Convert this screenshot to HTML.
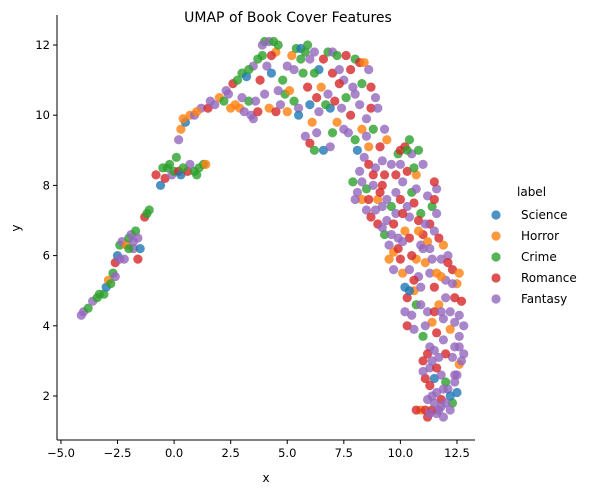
<!DOCTYPE html>
<html><head><meta charset="utf-8"><style>
body{margin:0;background:#fff;font-family:"Liberation Sans","DejaVu Sans",sans-serif;}
svg text{font-family:"DejaVu Sans","Liberation Sans",sans-serif;fill:#000;}
</style></head><body>
<svg id="chart" width="598" height="495" viewBox="0 0 598 495">
<text x="288" y="22" text-anchor="middle" font-size="14">UMAP of Book Cover Features</text>
<g id="points"></g>
<g id="axes"></g>
<text x="266" y="482" text-anchor="middle" font-size="12">x</text>
<text x="20" y="228" text-anchor="middle" font-size="12" transform="rotate(-90 20 228)">y</text>
<g id="legend">
<text x="517" y="196" font-size="12">label</text>
</g>
</svg>
<script>
const categories=["Science","Horror","Crime","Romance","Fantasy"];
const colors=["#1f77b4","#ff7f0e","#2ca02c","#d62728","#9467bd"];
const xTicks=[-5,-2.5,0,2.5,5,7.5,10,12.5];
const xTickLabels=["−5.0","−2.5","0.0","2.5","5.0","7.5","10.0","12.5"];
const yTicks=[2,4,6,8,10,12];
const yTickLabels=["2","4","6","8","10","12"];
const pts=[
-4.1,4.3,4,-4.0,4.4,4,-3.8,4.5,2,-3.6,4.7,4,-3.3,4.9,2,-3.1,4.9,2,-3.0,5.1,0,-2.9,5.3,1,-2.7,5.5,2,-2.6,5.8,3,-2.5,6.0,0,-2.4,6.3,2,-2.3,6.4,4,-2.1,6.3,1,-2.0,6.5,2,-1.9,6.6,4,-1.7,6.7,2,-1.6,6.5,4,-1.8,6.2,4,-1.6,5.9,3,-1.5,6.2,0,-1.3,7.1,3,-1.2,7.2,2,-1.1,7.3,2,-2.6,5.4,4,-2.2,5.9,4,
-0.6,8.0,0,-0.4,8.2,3,-0.5,8.5,2,-0.3,8.5,2,-0.1,8.3,4,0.0,8.4,2,0.2,8.4,3,0.3,8.3,0,0.1,8.8,2,0.2,9.3,4,0.3,9.6,1,0.5,9.8,0,0.7,10.0,1,0.9,10.0,4,0.6,8.4,3,0.9,8.4,2,1.1,8.5,2,1.3,8.6,2,1.4,8.6,1,0.7,8.6,4,1.2,10.2,4,1.5,10.2,3,1.8,10.3,4,2.0,10.5,1,2.2,10.4,2,2.4,10.6,4,2.6,10.9,3,2.8,11.0,2,3.0,11.2,2,3.2,11.1,0,2.7,10.3,1,2.9,10.2,1,3.1,10.1,4,3.4,10.0,4,3.5,9.9,4,3.7,10.1,3,3.3,10.4,2,3.5,11.4,4,3.7,11.6,2,3.9,11.7,2,4.0,12.1,2,4.2,12.1,4,4.4,12.1,2,4.5,11.8,1,4.1,11.4,4,4.3,11.2,0,3.8,11.0,3,4.0,10.6,4,4.2,10.2,1,4.5,10.1,3,4.7,10.3,4,4.9,10.6,2,5.1,10.7,1,4.8,11.0,2,5.0,11.4,4,5.2,11.7,1,5.4,11.9,2,5.6,11.9,0,5.8,11.8,2,6.0,11.6,4,5.7,11.2,2,5.9,10.8,3,5.5,10.2,4,5.3,10.4,2,5.5,10.0,0,5.8,9.4,4,6.0,9.2,3,6.2,9.0,2,6.1,9.8,1,6.4,10.1,4,6.3,10.5,3,6.5,10.8,1,6.4,11.3,0,6.6,11.6,3,6.8,11.8,2,7.0,11.8,4,7.2,11.7,2,7.0,11.2,3,6.8,10.6,4,6.9,10.2,0,7.1,10.4,3,6.6,9.0,0,7.0,9.5,2,7.2,9.8,1,7.4,10.2,4,7.6,10.5,2,7.5,11.0,4,7.8,11.3,3,8.0,11.6,2,8.2,11.5,3,8.4,11.5,1,8.6,11.3,4,8.3,10.9,2,8.0,10.6,4,7.8,10.0,3,7.7,9.5,4,8.0,9.3,2,8.3,9.6,1,8.5,9.9,4,8.7,10.2,3,9.0,10.2,4,8.8,9.6,2,9.1,9.1,3,8.5,9.4,4,8.1,9.0,0,8.4,8.8,4,8.6,8.6,3,
7.9,8.1,2,8.1,7.8,4,8.3,7.6,1,8.5,7.3,4,8.7,7.1,3,8.5,7.9,2,8.8,8.0,4,9.0,7.6,1,9.2,7.4,4,9.0,6.9,3,9.3,6.6,2,9.5,6.3,4,9.7,6.1,1,9.4,7.0,4,9.6,7.4,2,9.8,7.8,4,9.3,8.3,3,9.6,8.6,4,9.9,8.9,2,10.2,9.1,3,10.4,9.3,2,10.5,8.9,4,10.3,8.4,3,10.1,8.1,4,10.5,7.8,2,10.7,8.3,1,10.6,7.5,3,10.4,7.1,4,10.2,6.7,1,9.9,6.5,4,10.0,5.9,3,10.1,5.5,1,10.2,5.1,0,10.3,4.8,3,10.2,4.4,4,10.3,4.0,3,10.5,4.3,4,10.7,4.6,2,10.6,5.0,1,10.8,5.4,4,10.7,5.9,1,10.9,6.3,4,11.0,6.6,3,11.2,6.4,1,11.3,6.9,3,11.5,6.7,4,11.4,7.4,2,11.6,7.9,4,11.5,8.1,3,11.2,7.7,4,10.9,7.2,2,11.0,8.6,4,10.8,9.0,2,11.1,5.8,1,11.3,5.5,4,11.6,5.5,1,11.8,5.9,4,11.5,5.1,3,11.7,4.6,1,11.9,4.2,4,12.2,4.4,4,12.4,4.8,3,12.6,4.3,4,12.8,4.0,4,12.7,4.7,3,12.5,5.2,1,12.0,5.3,4,12.3,5.6,3,11.9,6.3,1,12.1,6.0,4,11.4,4.1,1,11.1,4.0,4,11.0,3.7,2,11.3,3.4,4,11.6,3.8,3,11.9,3.6,4,12.2,3.9,1,12.4,3.4,4,12.8,3.2,4,12.6,2.9,1,12.4,2.6,4,12.5,2.1,0,12.3,1.8,2,12.1,2.2,4,11.8,1.9,3,11.6,1.5,4,11.4,1.6,3,11.2,1.9,4,11.1,2.5,3,11.3,2.8,4,11.5,2.5,0,11.8,2.6,4,12.0,2.4,2,11.7,1.6,4,11.9,1.4,4,11.2,1.4,3,10.9,1.6,1,10.7,1.6,3,11.0,3.0,3,11.2,3.2,3,12.6,3.7,4,11.6,2.1,4,12.2,1.6,4,
8.2,8.4,4,8.9,8.5,4,9.2,8.0,3,9.8,7.2,4,10.0,7.6,3,10.4,6.5,3,9.7,5.6,4,9.5,5.9,1,10.8,6.7,1,10.0,9.0,3,9.4,9.3,1,
-3.4,4.8,2,-2.8,5.2,2,-2.4,5.9,4,-2.0,6.2,2,-1.8,6.4,4,-0.8,8.3,3,-0.2,8.6,2,0.4,8.5,2,1.0,8.3,2,0.4,9.9,1,1.0,10.1,1,1.6,10.4,4,2.3,10.7,4,2.5,10.2,1,3.0,10.5,4,3.3,11.3,2,3.6,10.4,4,3.9,12.0,4,4.3,11.7,3,4.6,12.0,2,4.6,10.7,4,5.0,10.1,1,5.3,11.3,4,5.6,11.6,2,5.9,12.0,2,6.2,11.2,2,6.2,11.8,4,6.0,10.3,0,6.7,10.3,2,6.3,9.5,4,6.9,9.1,4,7.3,11.3,4,7.3,10.9,3,7.6,11.7,3,7.9,10.8,4,8.2,10.3,4,7.5,9.6,4,8.7,10.8,3,8.9,10.5,4,9.3,9.6,4,8.6,9.1,1,9.2,8.7,4,8.8,8.3,3,8.3,8.1,4,8.0,7.6,4,8.6,7.6,3,8.9,7.3,4,9.1,7.8,3,9.4,7.6,4,9.7,6.9,3,9.2,6.8,4,9.6,6.6,4,9.9,6.2,3,10.1,6.4,4,10.3,7.4,4,10.1,7.2,3,9.8,8.3,3,10.0,8.6,4,10.6,8.5,2,10.3,9.0,2,10.7,7.9,4,10.8,7.0,3,11.1,6.9,4,11.0,6.2,4,11.3,6.2,4,10.5,6.0,3,10.4,5.6,4,10.6,5.3,3,10.9,5.1,4,10.4,5.0,0,10.9,4.6,4,10.6,3.9,4,11.2,4.4,4,11.5,4.4,3,11.8,4.4,4,12.0,4.8,4,12.3,5.2,4,12.6,5.5,1,12.1,5.8,3,11.8,5.4,1,11.4,5.9,4,11.7,6.5,3,11.6,7.2,4,11.5,7.6,3,12.4,4.1,4,12.6,3.4,4,12.3,3.1,4,12.0,3.2,3,11.7,3.1,4,11.5,3.3,4,11.0,2.7,4,11.3,2.3,3,11.6,2.8,3,11.9,2.2,4,12.2,2.0,0,12.4,2.4,4,11.4,2.0,4,11.1,1.6,3,11.5,1.8,4,11.8,1.7,4,12.0,1.8,4,11.3,1.5,4,12.5,2.6,4,12.7,3.0,4,11.4,3.0,4
];
const NS="http://www.w3.org/2000/svg";
const X0=57,X1=475,Y0=15,Y1=440;
function sx(v){return 174.1+v*22.63;}
function sy(v){return 466.2-v*35.1;}
const pg=document.getElementById('points');
for(let i=0;i<pts.length;i+=3){
 const c=document.createElementNS(NS,'circle');
 c.setAttribute('cx',sx(pts[i]));c.setAttribute('cy',sy(pts[i+1]));c.setAttribute('r',4.6);
 c.setAttribute('fill',colors[pts[i+2]]);c.setAttribute('fill-opacity',0.8);
 
 
 pg.appendChild(c);
}
const ax=document.getElementById('axes');
function ln(x1,y1,x2,y2,name){const l=document.createElementNS(NS,'line');l.setAttribute('x1',x1);l.setAttribute('y1',y1);l.setAttribute('x2',x2);l.setAttribute('y2',y2);l.setAttribute('stroke','#000');l.setAttribute('stroke-width',1);


ax.appendChild(l);}
function tx(x,y,s,anchor,name){const t=document.createElementNS(NS,'text');t.setAttribute('x',x);t.setAttribute('y',y);t.setAttribute('text-anchor',anchor);t.setAttribute('font-size',11.5);t.textContent=s;


ax.appendChild(t);}
ln(X0,Y0,X0,Y1,'y-axis-line');ln(X0,Y1,X1,Y1,'x-axis-line');
xTicks.forEach((v,i)=>{const x=sx(v);ln(x,Y1,x,Y1+4,'x-tick');tx(x,Y1+17,xTickLabels[i],'middle','x-tick-label');});
yTicks.forEach((v,i)=>{const y=sy(v);ln(X0-4,y,X0,y,'y-tick');tx(X0-7,y+4,yTickLabels[i],'end','y-tick-label');});
const lg=document.getElementById('legend');
categories.forEach((c,i)=>{const y=215+i*21;
 const g=document.createElementNS(NS,'g');
 
 
 const m=document.createElementNS(NS,'circle');m.setAttribute('cx',496);m.setAttribute('cy',y);m.setAttribute('r',4.6);m.setAttribute('fill',colors[i]);m.setAttribute('fill-opacity',0.8);
 
 
 const t=document.createElementNS(NS,'text');t.setAttribute('x',521);t.setAttribute('y',y+4);t.setAttribute('font-size',12);t.textContent=c;
 
 
 g.appendChild(m);g.appendChild(t);lg.appendChild(g);});
</script>
</body></html>
